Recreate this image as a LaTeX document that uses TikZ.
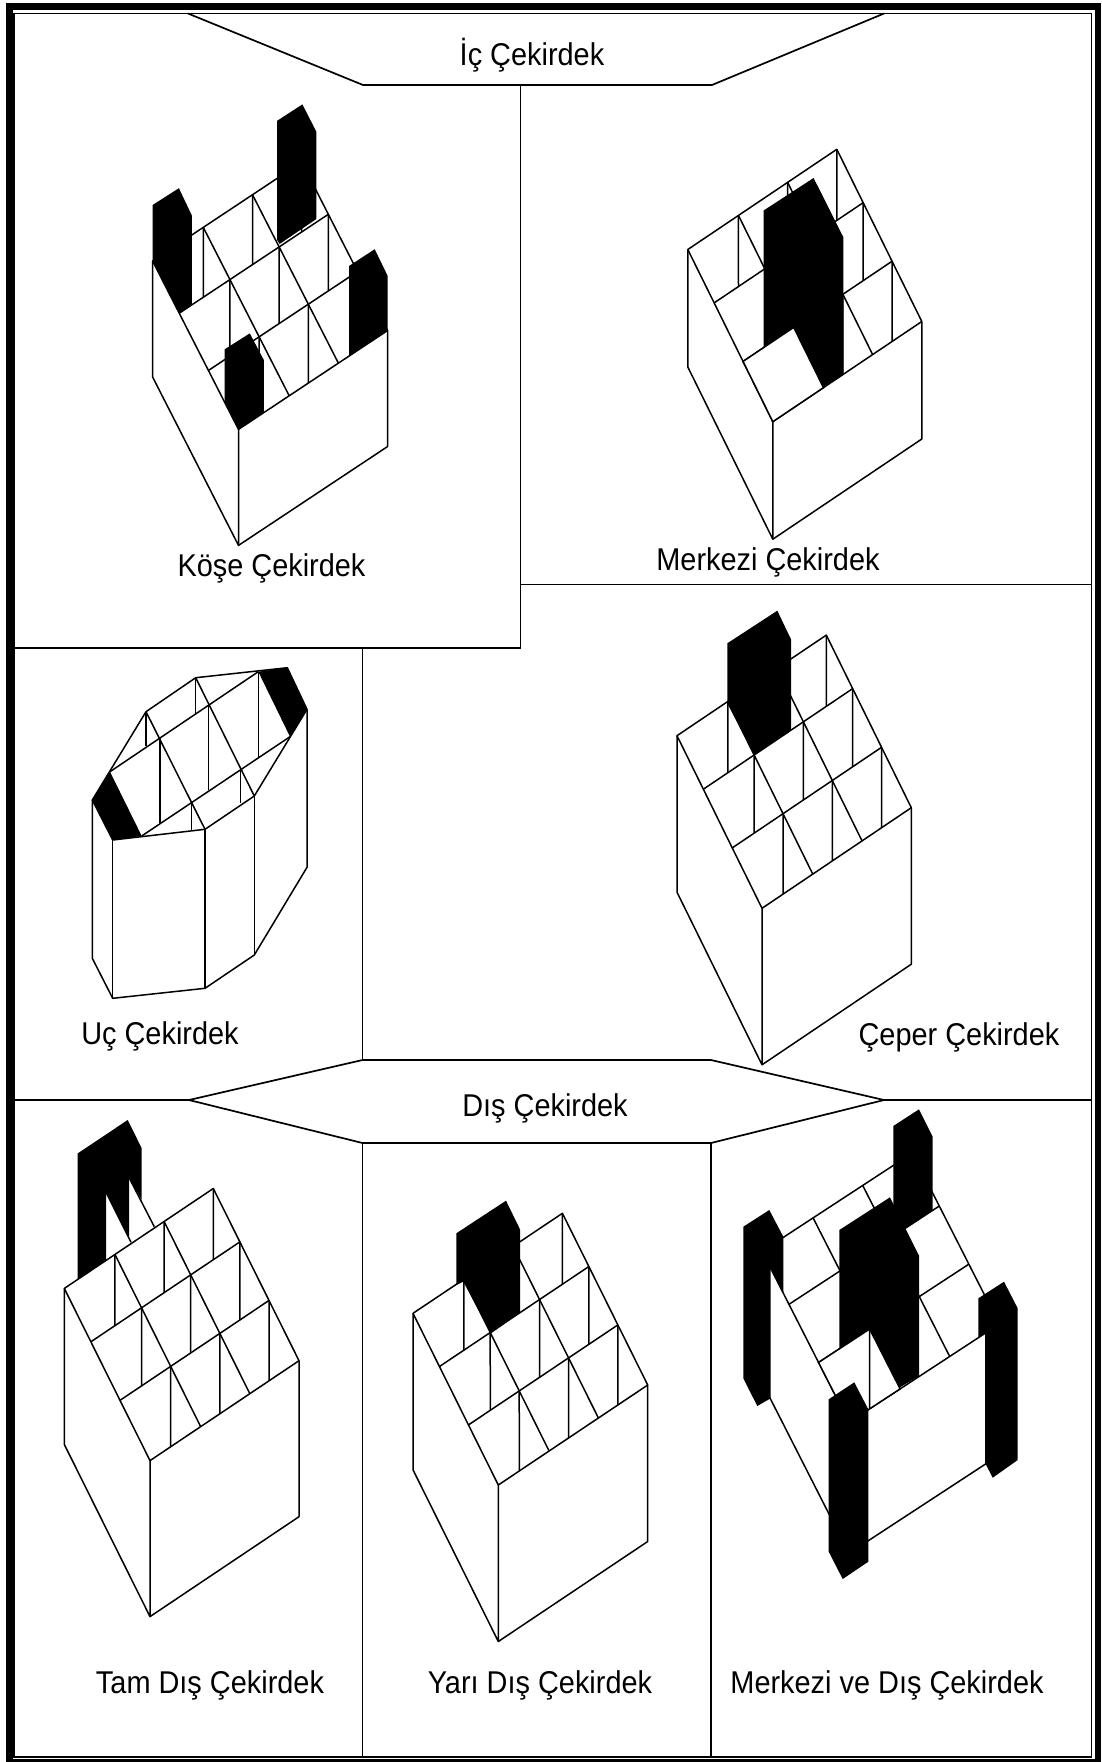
\documentclass[tikz,border=0pt]{standalone}
\usepackage{fontspec}
\usepackage{graphicx}
\setmainfont{Liberation Sans}
\usetikzlibrary{calc}

\tikzset{
  wire/.style={line width=1.5pt, line join=round},
  panelline/.style={line width=1.7pt},
  core/.style={fill=black},
  cell/.style={fill=white, draw=black, line width=1.5pt},
  tag/.style={font=\fontsize{28.9}{32}\selectfont, anchor=base, inner sep=0pt}
}

\newcommand{\tagtext}[1]{\scalebox{1}[1.09]{#1}}

% top grid and walls of one crate: back-left, front, right corner, wall height
\newcommand{\cratebox}[4]{
  \coordinate (cA) at #1;
  \coordinate (cF) at #2;
  \coordinate (cR) at #3;
  \coordinate (cB) at ($(cA)+(cR)-(cF)$);
  \draw[wire] (cA) -- (cF) -- (cR) -- (cB) -- cycle;
  \draw[wire] (cA) -- ++(0,#4) -- ($(cF)+(0,#4)$) -- (cF);
  \draw[wire] ($(cF)+(0,#4)$) -- ($(cR)+(0,#4)$) -- (cR);
  \foreach \a/\n in {0/0, .31/1, .65/2, 1/3} {
    \coordinate (cL\n) at ($(cA)!\a!(cF)$);
    \coordinate (cE\n) at ($(cB)!\a!(cR)$);
  }
  \foreach \b in {.34, .67} {
    \draw[wire] ($(cA)!\b!(cB)$) -- ($(cF)!\b!(cR)$);
  }
  \draw[wire] (cL1) -- (cE1);
  \draw[wire] (cL2) -- (cE2);
  \coordinate (cN) at ($(cL2)!.34!(cE2)$);
  \coordinate (cU) at ($(cF)!.34!(cR)$);
}

% short uprights seen inside the cells
\newcommand{\crateposts}{
  \foreach \i/\j in {0/1, 1/2, 2/3} {
    \foreach \b in {.34, .67, 1} {
      \coordinate (cP) at ($(cL\i)!\b!(cE\i)$);
      \coordinate (cQ) at ($(cP)+(0,20)$);
      \draw[wire] (cP) -- (intersection of cP--cQ and cL\j--cE\j);
    }
  }
}

\begin{document}
\begin{tikzpicture}[x=1pt, y=-1pt]
  \useasboundingbox (0,0) rectangle (1101,1762);

  % frame
  \fill[black] (6,3) rectangle (1101,1762);
  \fill[white] (12.5,10) rectangle (1094.5,1759);
  \draw[panelline] (14,13.5) rectangle (1091.5,1757);

  % panels
  \draw[panelline] (188,13.5) -- (363,85) -- (712,85) -- (884,13.5);
  \draw[panelline] (520.5,85) -- (520.5,648) -- (14,648);
  \draw[panelline] (520.5,584.5) -- (1091.5,584.5);
  \draw[panelline] (362.5,648) -- (362.5,1060);
  \draw[panelline] (14,1100) -- (189,1100) -- (362.5,1060) -- (711,1060) -- (884,1100) -- (1091.5,1100);
  \draw[panelline] (189,1100) -- (362.5,1143) -- (711,1143) -- (884,1100);
  \draw[panelline] (362.5,1143) -- (362.5,1757);
  \draw[panelline] (711,1143) -- (711,1757);

  % corner cores
  \cratebox{(152.6,261)}{(238.5,429.4)}{(387.6,330.5)}{116}
  \crateposts
  \fill[core] (152.6,205) -- (178.9,188.2) -- (191.9,215.6) -- (191.9,304.8) -- (cL1) -- (cA) -- cycle;
  \fill[core] (277.1,120.8) -- (302.4,104.4) -- (316.4,131.8) -- (316.4,219) -- (279.6,244) -- (277.1,240) -- cycle;
  \fill[core] (349,266) -- (374.7,249.2) -- (387.6,275.8) -- (cR) -- (349,356) -- cycle;
  \fill[core] (224.5,349.4) -- (249.8,333.4) -- (263.8,360) -- (263.8,412.6) -- (cF) -- (224.5,402) -- cycle;

  % central core
  \cratebox{(687.8,249.5)}{(772.8,421.7)}{(921.8,321.5)}{117.5}
  \crateposts
  \fill[core] (763.6,210.5) -- (813.6,178) -- (843.4,237.3) -- (843.4,375) -- (822.3,387.3) -- (793.2,329.1) -- (763.6,347.5) -- cycle;
  \filldraw[cell] (cL2) -- (cN) -- (cU) -- (cF) -- cycle;

  % edge core
  \cratebox{(677,735.7)}{(762,908.3)}{(911.3,807.7)}{156.5}
  \crateposts
  \fill[core] (727.3,643.3) -- (777.3,610.7) -- (791,639.3) -- (791,730) -- (754.3,755) -- (727.3,703.3) -- cycle;

  % tip core, its own outline
  \draw[wire] (92.3,800) -- (146,711.7) -- (195.7,677.7) -- (287.3,667.7) -- (307,709.3) -- (254.3,796) -- (205,829.3) -- (112.7,840) -- cycle;
  \draw[wire] (92.3,800) -- (92.3,958.3) -- (112.7,998.3) -- (205,988.3) -- (254.3,955) -- (307,867.3) -- (307,709.3);
  \draw[wire] (112.7,840) -- (112.7,998.3);
  \draw[wire] (205,829.3) -- (205,988.3);
  \draw[wire] (254.3,796) -- (254.3,955);
  \draw[wire] (110,771.7) -- (258.3,671.7);
  \draw[wire] (141.7,836) -- (290,736.7);
  \draw[wire] (146,711.7) -- (205,829.3);
  \draw[wire] (195.7,677.7) -- (254.3,796);
  \draw[wire] (146,711.7) -- (146,746);
  \draw[wire] (195.7,677.7) -- (195.7,713.3);
  \draw[wire] (258.3,671.7) -- (258.3,756.7);
  \draw[wire] (160,737.3) -- (160,822.7);
  \draw[wire] (208.3,705) -- (208.3,790);
  \draw[wire] (191.7,802.7) -- (191.7,831);
  \draw[wire] (240.7,769.3) -- (240.7,803.3);
  \fill[core] (258.3,671.7) -- (287.3,667.7) -- (307,709.3) -- (290,736.7) -- cycle;
  \fill[core] (110,771.7) -- (92.3,800) -- (112.7,840) -- (141.7,836) -- cycle;

  % full outer core
  \cratebox{(64.3,1288.4)}{(150,1460.6)}{(299,1360.7)}{156}
  \crateposts
  \fill[core] (77.7,1279) -- (77.7,1153.4) -- (127.7,1120) -- (141.7,1148.2) -- (141.7,1199.9) -- (129,1177.5) -- (129,1237) -- (106,1192.3) -- (106,1260) -- cycle;
  \draw[wire] (129,1177.5) -- (154.3,1226.7);
  \draw[wire] (106,1192.3) -- (131,1242.2);

  % half outer core
  \cratebox{(413,1313.3)}{(498.3,1485)}{(647.7,1385)}{156.5}
  \crateposts
  \fill[core] (456.3,1233.3) -- (506,1200.7) -- (520,1229.3) -- (520,1312.7) -- (491,1333.3) -- (463.3,1281.7) -- (456.3,1285) -- cycle;

  % central and outer core
  \cratebox{(762,1251.3)}{(849,1422.3)}{(999.3,1324)}{131}
  \fill[core] (893.3,1126) -- (919,1109.3) -- (932.7,1136.7) -- (932.7,1210.5) -- (905.7,1228.5) -- (893.3,1228.5) -- cycle;
  \fill[core] (839.3,1230) -- (890,1197.3) -- (919,1255.7) -- (919,1376) -- (898.3,1388.3) -- (869,1331.7) -- (839.3,1350.7) -- cycle;
  \filldraw[cell] (cL2) -- (cN) -- (cU) -- (cF) -- cycle;
  \coordinate (cQ) at ($(cN)+(0,20)$);
  \draw[wire] (cN) -- (intersection of cN--cQ and cF--cR);
  \fill[core] (743.3,1226.7) -- (769.3,1210) -- (783.3,1236.7) -- (783.3,1293.3) -- (770.7,1268.3) -- (770.7,1398.3) -- (757.3,1406) -- (743.3,1378.3) -- cycle;
  \fill[core] (828.7,1399.3) -- (854.3,1382.3) -- (868.3,1409.3) -- (868.3,1561.7) -- (842.7,1579) -- (828.7,1551.7) -- cycle;
  \fill[core] (978.3,1298.3) -- (1004,1281.7) -- (1017.7,1308.3) -- (1017.7,1460) -- (992.7,1477.7) -- (985,1462.7) -- (985,1333.3) -- (978.3,1337.7) -- cycle;

  % labels
  \node[tag] (inner) at (532,65) {\tagtext{İç Çekirdek}};
  \node[tag] (corner) at (271.5,576) {\tagtext{Köşe Çekirdek}};
  \node[tag] (central) at (768,570) {\tagtext{Merkezi Çekirdek}};
  \node[tag] (tip) at (160,1044) {\tagtext{Uç Çekirdek}};
  \node[tag] (edge) at (959,1045) {\tagtext{Çeper Çekirdek}};
  \node[tag] (outer) at (545,1116) {\tagtext{Dış Çekirdek}};
  \node[tag] (full) at (210,1693) {\tagtext{Tam Dış Çekirdek}};
  \node[tag] (half) at (540,1693) {\tagtext{Yarı Dış Çekirdek}};
  \node[tag] (both) at (887,1693) {\tagtext{Merkezi ve Dış Çekirdek}};
\end{tikzpicture}
\end{document}
